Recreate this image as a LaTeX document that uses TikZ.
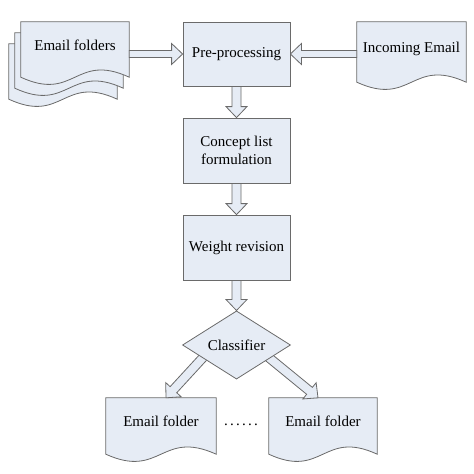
\documentclass[tikz,border=0pt]{standalone}
\usepackage{fontspec}
\setmainfont{Liberation Serif}
\usepackage{tikz}
\usetikzlibrary{shapes.geometric,calc,backgrounds}

\definecolor{boxfill}{HTML}{E6ECF5}
\definecolor{boxline}{HTML}{6A6A6A}

% hollow block arrow from tail to tip
\newcommand{\blockarrow}[3][4.5]{%
	\coordinate (ba) at ($(#3)!11pt!(#2)$);
	\filldraw[shapeline] ($(#2)!#1pt!90:(#3)$) -- ($(ba)!#1pt!90:(#3)$) -- ($(ba)!10.5pt!90:(#3)$) -- (#3) -- ($(ba)!10.5pt!-90:(#3)$) -- ($(ba)!#1pt!-90:(#3)$) -- ($(#2)!#1pt!-90:(#3)$) -- cycle;
}
% document outline round a node, shifted by dx, dy
\newcommand{\docoutline}[3]{%
	\filldraw[shapeline] ($(#1.south west)+(#2,#3)$) -- ($(#1.north west)+(#2,#3)$) -- ($(#1.north east)+(#2,#3)$) -- ($(#1.south east)+(#2,#3)$) .. controls ($(#1.south)+(#2,#3-25)$) and ($(#1.south)+(#2,#3+25)$) .. ($(#1.south west)+(#2,#3)$) -- cycle;
}

\begin{document}
\begin{tikzpicture}[x=1pt,y=-1pt,font=\fontsize{15}{17.5}\selectfont,
	shapeline/.style={draw=boxline, fill=boxfill, line width=0.8pt},
	box/.style={shape=rectangle, shapeline, minimum width=107, minimum height=64, inner sep=0pt, align=center},
	doc/.style={shape=rectangle, minimum width=108, minimum height=56, inner sep=0pt, text height=10.5pt, text depth=9pt}]
				\useasboundingbox (0,0) rectangle (474,474);
				\node[box] (pre) at (236.5,54) {Pre-processing};
				\node[box, minimum height=65] (con) at (236.5,150.5) {Concept list\\formulation};
				\node[box, minimum height=65] (wgt) at (236.5,247.5) {Weight revision};
				\node[shape=diamond, shapeline, minimum width=108, minimum height=64, inner sep=0pt] (cls) at (236.5,345) {Classifier};
				\node[doc, minimum height=55] (efs) at (75,49.5) {Email folders};
				\node[doc, minimum width=109, minimum height=60] (inc) at (411.5,52) {Incoming Email};
				\node[doc, minimum width=110] (fl) at (161,426) {Email folder};
				\node[doc] (fr) at (323,426) {Email folder};
				\node[font=\fontsize{15}{17.5}\selectfont\addfontfeature{LetterSpace=15}] (dots) at (241,425) {......};
				\coordinate (efsout) at (efs.east |- pre.west);
				\coordinate (incout) at (inc.west |- pre.east);
				\coordinate (flin) at ($(fl.north)+(5,0)$);
				\coordinate (frin) at ($(fr.north)+(-5,0)$);
				\coordinate (clsl) at ($(cls.center)+(-22,0)$);
				\coordinate (clsr) at ($(cls.center)+(17,0)$);
				\begin{scope}[on background layer]
					\docoutline{efs}{-12}{22}
					\docoutline{efs}{-6}{11}
					\docoutline{efs}{0}{0}
					\docoutline{inc}{0}{0}
					\docoutline{fl}{0}{0}
					\docoutline{fr}{0}{0}
					\blockarrow[3.5]{efsout}{pre.west}
					\blockarrow[3.5]{incout}{pre.east}
					\blockarrow{pre.south}{con.north}
					\blockarrow{con.south}{wgt.north}
					\blockarrow{wgt.south}{cls.north}
					\blockarrow{clsl}{flin}
					\blockarrow{clsr}{frin}
				\end{scope}
			\end{tikzpicture}
\end{document}
